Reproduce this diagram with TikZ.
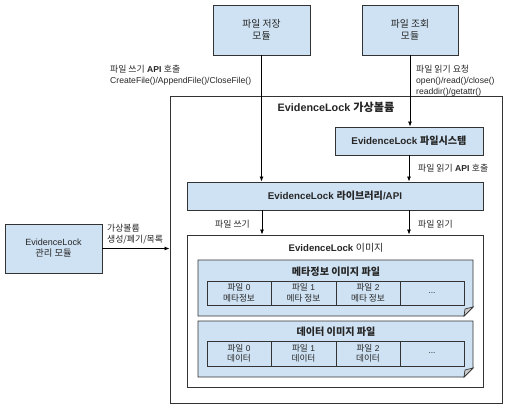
\documentclass[tikz,border=0pt]{standalone}
\usepackage{fontspec}
\setmainfont{Liberation Sans}
\newfontfamily\krfont{Noto Sans CJK KR}[Scale=1.03]
\newcommand\hk[1]{{\krfont #1}}
\usetikzlibrary{arrows.meta}
\definecolor{boxblue}{HTML}{CFE2F3}
\definecolor{edge}{HTML}{333333}
\definecolor{txt}{HTML}{262626}
\tikzset{
  every node/.style={font=\fontsize{9}{11}\selectfont, text=txt},
  blue box/.style={draw=edge, fill=boxblue, line width=0.9pt, align=center, inner sep=0pt},
  cell/.style={draw=edge, fill=boxblue, line width=0.9pt, align=center, inner sep=0pt, minimum height=24pt, font=\fontsize{8.4}{10.5}\selectfont},
  plain box/.style={draw=edge, fill=white, line width=0.9pt},
  conn/.style={draw=black, line width=0.8pt, -{Latex[length=5pt,width=4pt]}},
  lbl/.style={align=left, inner sep=0pt, anchor=west, font=\fontsize{8.6}{11.2}\selectfont},
  bold title/.style={font=\bfseries\fontsize{9.8}{11}\selectfont},
}
\begin{document}
\begin{tikzpicture}[x=1pt,y=-1pt]
\useasboundingbox (0,0) rectangle (512,410);
% top modules
\node[blue box, minimum width=97pt, minimum height=50pt, font=\fontsize{9.5}{12.5}\selectfont] (save) at (261.5,30) {\hk{파일 저장}\\\hk{모듈}};
\node[blue box, minimum width=96pt, minimum height=50pt, font=\fontsize{9.5}{12.5}\selectfont] (query) at (410,30) {\hk{파일 조회}\\\hk{모듈}};
% outer volume
\node[plain box, minimum width=332pt, minimum height=307pt] (vol) at (336,249.5) {};
\node[bold title, font=\bfseries\fontsize{10.8}{12}\selectfont] (voltitle) at (336,107) {EvidenceLock \hk{가상볼륨}};
% filesystem
\node[blue box, minimum width=148pt, minimum height=28pt, bold title] (fs) at (409,141) {EvidenceLock \hk{파일시스템}};
% library
\node[blue box, minimum width=296pt, minimum height=28pt, bold title] (lib) at (335,196) {EvidenceLock \hk{라이브러리}/API};
% image box
\node[plain box, minimum width=296pt, minimum height=152pt] (img) at (335,311) {};
\node[font=\fontsize{9.6}{11}\selectfont] (imgtitle) at (336,248) {\textbf{EvidenceLock} \hk{이미지}};
% meta file doc shape
\draw[draw=edge, fill=boxblue, line width=0.9pt] (198,260) -- (473,260) -- (473,307) -- (464,316) -- (198,316) -- cycle;
\draw[draw=edge, fill=black!20, line width=0.7pt] (473,307) -- (465,309) -- (464,316) -- cycle;
\node[bold title] (metatitle) at (336,272) {\hk{메타정보 이미지 파일}};
\node[cell, minimum width=64pt] (m0) at (239,293) {\hk{파일} 0\\\hk{메타정보}};
\node[cell, minimum width=65pt] (m1) at (303.5,293) {\hk{파일} 1\\\hk{메타 정보}};
\node[cell, minimum width=64pt] (m2) at (368,293) {\hk{파일} 2\\\hk{메타 정보}};
\node[cell, minimum width=64pt] (m3) at (432,293) {...};
% data file doc shape
\draw[draw=edge, fill=boxblue, line width=0.9pt] (198,321) -- (473,321) -- (473,368) -- (464,377) -- (198,377) -- cycle;
\draw[draw=edge, fill=black!20, line width=0.7pt] (473,368) -- (465,370) -- (464,377) -- cycle;
\node[bold title] (datatitle) at (336,332) {\hk{데이터 이미지 파일}};
\node[cell, minimum width=64pt, minimum height=25pt] (d0) at (239,353.5) {\hk{파일} 0\\\hk{데이터}};
\node[cell, minimum width=65pt, minimum height=25pt] (d1) at (303.5,353.5) {\hk{파일} 1\\\hk{데이터}};
\node[cell, minimum width=64pt, minimum height=25pt] (d2) at (368,353.5) {\hk{파일} 2\\\hk{데이터}};
\node[cell, minimum width=64pt, minimum height=25pt] (d3) at (432,353.5) {...};
% management module
\node[blue box, minimum width=97pt, minimum height=49pt] (mgmt) at (53.5,248.5) {EvidenceLock\\\hk{관리 모듈}};
% connectors
\draw[conn] (save.south) -- (save.south |- lib.north);
\draw[conn] (query.south) -- (query.south |- fs.north);
\draw[conn] (fs.south) -- (fs.south |- lib.north);
\coordinate (wl) at (262,210);
\coordinate (rl) at (409,210);
\draw[conn] (wl) -- (wl |- img.north);
\draw[conn] (rl) -- (rl |- img.north);
\draw[conn] (mgmt.east) -- (mgmt.east -| vol.west);
% labels
\node[lbl] (l1) at (110,75) {\hk{파일 쓰기} \textbf{API} \hk{호출}\\CreateFile()/AppendFile()/CloseFile()};
\node[lbl] (l2) at (416,81) {\hk{파일 읽기 요청}\\open()/read()/close()\\readdir()/getattr()};
\node[lbl] (l3) at (418,168) {\hk{파일 읽기} \textbf{API} \hk{호출}};
\node[lbl, anchor=east] (l4) at (250,224) {\hk{파일 쓰기}};
\node[lbl] (l5) at (418,224) {\hk{파일 읽기}};
\node[lbl] (l6) at (107,234) {\hk{가상볼륨}\\\hk{생성/폐기/목록}};
\end{tikzpicture}
\end{document}
